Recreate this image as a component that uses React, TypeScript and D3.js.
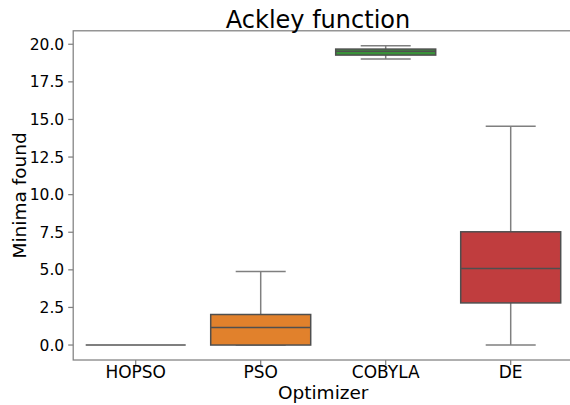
import React from "react";
import * as d3 from "d3";

const optimizers = ["HOPSO", "PSO", "COBYLA", "DE"];
const whiskerLow = [0, 0, 19.02, 0];
const quartile1 = [0, 0, 19.28, 2.8];
const medians = [0, 1.16, 19.53, 5.09];
const quartile3 = [0, 2.03, 19.68, 7.53];
const whiskerHigh = [0, 4.89, 19.9, 14.54];
const boxColors = ["#3274a1", "#e1812c", "#3a923a", "#c03d3e"];
const yTicks = [0, 2.5, 5, 7.5, 10, 12.5, 15, 17.5, 20];

const W = 570;
const H = 405;
const left = 73.2;
const right = 573.2;
const top = 30.8;
const bottom = 360;

export default function App() {
  const lo = d3.min(whiskerLow) as number;
  const hi = d3.max(whiskerHigh) as number;
  const pad = (hi - lo) * 0.05;
  const y = d3.scaleLinear().domain([lo - pad, hi + pad]).range([bottom, top]);
  const x = d3.scaleBand().domain(optimizers).range([left, right]).padding(0);
  const bw = x.bandwidth() * 0.8;
  const lineGray = "#4f4f4f";
  const whiskGray = "#7f7f7f";
  const font = "DejaVu Sans, sans-serif";

  return (
    <svg width={W} height={H} style={{ position: "absolute", left: 0, top: 0 }} fontFamily={font}>
      <rect x={0} y={0} width={W} height={H} fill="#ffffff" />
      {optimizers.map((o, i) => {
        const cx = (x(o) as number) + x.bandwidth() / 2;
        const x0 = cx - bw / 2;
        const capW = bw / 2;
        return (
          <g key={o}>
            <line x1={cx} x2={cx} y1={y(quartile3[i])} y2={y(whiskerHigh[i])} stroke={whiskGray} strokeWidth={1.5} />
            <line x1={cx} x2={cx} y1={y(quartile1[i])} y2={y(whiskerLow[i])} stroke={whiskGray} strokeWidth={1.5} />
            <line x1={cx - capW / 2} x2={cx + capW / 2} y1={y(whiskerHigh[i])} y2={y(whiskerHigh[i])} stroke={whiskGray} strokeWidth={1.5} />
            <line x1={cx - capW / 2} x2={cx + capW / 2} y1={y(whiskerLow[i])} y2={y(whiskerLow[i])} stroke={whiskGray} strokeWidth={1.5} />
            {quartile3[i] - quartile1[i] > 0 ? (
              <rect x={x0} y={y(quartile3[i])} width={bw} height={y(quartile1[i]) - y(quartile3[i])} fill={boxColors[i]} stroke={lineGray} strokeWidth={1.5} />
            ) : (
              <line x1={x0} x2={x0 + bw} y1={y(quartile1[i])} y2={y(quartile1[i])} stroke={whiskGray} strokeWidth={2} />
            )}
            {quartile3[i] - quartile1[i] > 0 && (
              <line x1={x0} x2={x0 + bw} y1={y(medians[i])} y2={y(medians[i])} stroke={lineGray} strokeWidth={1.5} />
            )}
          </g>
        );
      })}
      <rect x={left} y={top} width={right - left} height={bottom - top} fill="none" stroke="#808080" strokeWidth={1.25} />
      {yTicks.map((t) => (
        <g key={t}>
          <line x1={left - 5} x2={left} y1={y(t)} y2={y(t)} stroke="#808080" strokeWidth={1.25} />
          <text x={left - 9} y={y(t)} dy="0.36em" textAnchor="end" fontSize={15.5} fill="#000">
            {t.toFixed(1)}
          </text>
        </g>
      ))}
      {optimizers.map((o) => {
        const cx = (x(o) as number) + x.bandwidth() / 2;
        return (
          <g key={o}>
            <line x1={cx} x2={cx} y1={bottom} y2={bottom + 5} stroke="#808080" strokeWidth={1.25} />
            <text x={cx} y={378} textAnchor="middle" fontSize={17} fill="#000">
              {o}
            </text>
          </g>
        );
      })}
      <text x={(left + right) / 2} y={398.5} textAnchor="middle" fontSize={18.5} fill="#000">
        Optimizer
      </text>
      <text transform={`translate(26, ${(top + bottom) / 2}) rotate(-90)`} textAnchor="middle" fontSize={18.5} fill="#000">
        Minima found
      </text>
      <text x={318} y={27.5} textAnchor="middle" fontSize={24} fill="#000">
        Ackley function
      </text>
    </svg>
  );
}
